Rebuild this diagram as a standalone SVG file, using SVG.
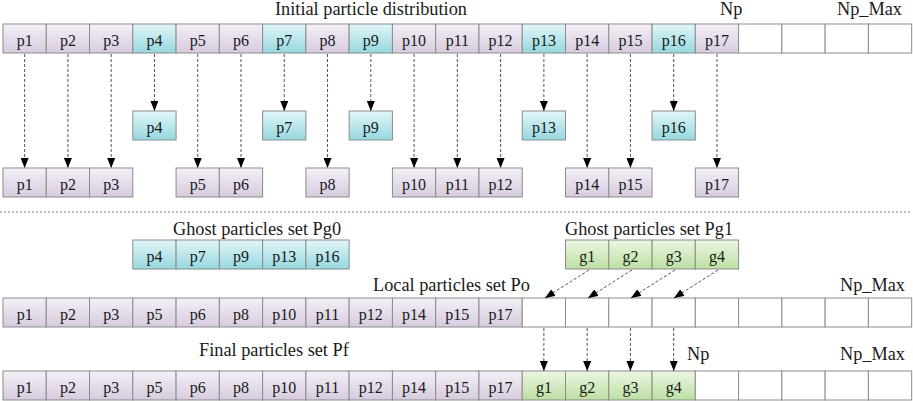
<svg xmlns="http://www.w3.org/2000/svg" width="913" height="401" viewBox="0 0 913 401">
<style>
text{font-family:"Liberation Serif","Times New Roman",serif;font-size:16px;fill:#1a1a1a}
.t{font-size:18.3px}
.c{text-anchor:middle}
rect{stroke:#8c8c8c;stroke-width:1}
.pu{fill:url(#gP)}
.cy{fill:url(#gC)}
.gr{fill:url(#gG)}
.wh{fill:#fff}
.ar{stroke:#555;stroke-width:1;stroke-dasharray:3 2;fill:none;marker-end:url(#ah)}
.sep{stroke:#888;stroke-width:1;stroke-dasharray:2 2}
</style>
<defs>
<linearGradient id="gP" x1="0" y1="0" x2="0" y2="1"><stop offset="0" stop-color="#f4f0f7"/><stop offset="1" stop-color="#d6cbdd"/></linearGradient>
<linearGradient id="gC" x1="0" y1="0" x2="0" y2="1"><stop offset="0" stop-color="#e2f6f8"/><stop offset="1" stop-color="#95d8df"/></linearGradient>
<linearGradient id="gG" x1="0" y1="0" x2="0" y2="1"><stop offset="0" stop-color="#edf6e3"/><stop offset="1" stop-color="#bcdfa2"/></linearGradient>
<marker id="ah" markerUnits="userSpaceOnUse" markerWidth="10" markerHeight="8" refX="10" refY="4" orient="auto"><path d="M0,0 L10,4 L0,8 z" fill="#000"/></marker>
</defs>

<g id="labels">
<text class="t c" x="371" y="15.3">Initial particle distribution</text>
<text class="t" x="720" y="15">Np</text>
<text class="t" x="837" y="15">Np_Max</text>
<text class="t c" x="257" y="234.7">Ghost particles set Pg0</text>
<text class="t c" x="649" y="234.7">Ghost particles set Pg1</text>
<text class="t" x="373" y="291.3">Local particles set Po</text>
<text class="t" x="840" y="291.3">Np_Max</text>
<text class="t" x="199" y="356">Final particles set Pf</text>
<text class="t" x="687" y="360">Np</text>
<text class="t" x="840" y="360">Np_Max</text>
</g>

<g id="initial-row">
<rect class="pu" x="3" y="24" width="43.27" height="29"/><text class="c" x="24.64" y="45.5">p1</text>
<rect class="pu" x="46.27" y="24" width="43.27" height="29"/><text class="c" x="67.91" y="45.5">p2</text>
<rect class="pu" x="89.54" y="24" width="43.27" height="29"/><text class="c" x="111.18" y="45.5">p3</text>
<rect class="cy" x="132.81" y="24" width="43.27" height="29"/><text class="c" x="154.45" y="45.5">p4</text>
<rect class="pu" x="176.08" y="24" width="43.27" height="29"/><text class="c" x="197.72" y="45.5">p5</text>
<rect class="pu" x="219.35" y="24" width="43.27" height="29"/><text class="c" x="240.99" y="45.5">p6</text>
<rect class="cy" x="262.62" y="24" width="43.27" height="29"/><text class="c" x="284.26" y="45.5">p7</text>
<rect class="pu" x="305.89" y="24" width="43.27" height="29"/><text class="c" x="327.53" y="45.5">p8</text>
<rect class="cy" x="349.16" y="24" width="43.27" height="29"/><text class="c" x="370.8" y="45.5">p9</text>
<rect class="pu" x="392.43" y="24" width="43.27" height="29"/><text class="c" x="414.07" y="45.5">p10</text>
<rect class="pu" x="435.7" y="24" width="43.27" height="29"/><text class="c" x="457.34" y="45.5">p11</text>
<rect class="pu" x="478.97" y="24" width="43.27" height="29"/><text class="c" x="500.61" y="45.5">p12</text>
<rect class="cy" x="522.24" y="24" width="43.27" height="29"/><text class="c" x="543.88" y="45.5">p13</text>
<rect class="pu" x="565.51" y="24" width="43.27" height="29"/><text class="c" x="587.15" y="45.5">p14</text>
<rect class="pu" x="608.78" y="24" width="43.27" height="29"/><text class="c" x="630.42" y="45.5">p15</text>
<rect class="cy" x="652.05" y="24" width="43.27" height="29"/><text class="c" x="673.69" y="45.5">p16</text>
<rect class="pu" x="695.32" y="24" width="43.27" height="29"/><text class="c" x="716.96" y="45.5">p17</text>
<rect class="wh" x="738.59" y="24" width="43.27" height="29"/>
<rect class="wh" x="781.86" y="24" width="43.27" height="29"/>
<rect class="wh" x="825.13" y="24" width="43.27" height="29"/>
<rect class="wh" x="868.4" y="24" width="43.27" height="29"/>
</g>

<g id="ghost-split">
<rect class="cy" x="132.81" y="111" width="43.27" height="29"/><text class="c" x="154.45" y="132.5">p4</text>
<rect class="cy" x="262.62" y="111" width="43.27" height="29"/><text class="c" x="284.26" y="132.5">p7</text>
<rect class="cy" x="349.16" y="111" width="43.27" height="29"/><text class="c" x="370.8" y="132.5">p9</text>
<rect class="cy" x="522.24" y="111" width="43.27" height="29"/><text class="c" x="543.88" y="132.5">p13</text>
<rect class="cy" x="652.05" y="111" width="43.27" height="29"/><text class="c" x="673.69" y="132.5">p16</text>
</g>

<g id="local-split">
<rect class="pu" x="3" y="168" width="43.27" height="29"/><text class="c" x="24.64" y="189.5">p1</text>
<rect class="pu" x="46.27" y="168" width="43.27" height="29"/><text class="c" x="67.91" y="189.5">p2</text>
<rect class="pu" x="89.54" y="168" width="43.27" height="29"/><text class="c" x="111.18" y="189.5">p3</text>
<rect class="pu" x="176.08" y="168" width="43.27" height="29"/><text class="c" x="197.72" y="189.5">p5</text>
<rect class="pu" x="219.35" y="168" width="43.27" height="29"/><text class="c" x="240.99" y="189.5">p6</text>
<rect class="pu" x="305.89" y="168" width="43.27" height="29"/><text class="c" x="327.53" y="189.5">p8</text>
<rect class="pu" x="392.43" y="168" width="43.27" height="29"/><text class="c" x="414.07" y="189.5">p10</text>
<rect class="pu" x="435.7" y="168" width="43.27" height="29"/><text class="c" x="457.34" y="189.5">p11</text>
<rect class="pu" x="478.97" y="168" width="43.27" height="29"/><text class="c" x="500.61" y="189.5">p12</text>
<rect class="pu" x="565.51" y="168" width="43.27" height="29"/><text class="c" x="587.15" y="189.5">p14</text>
<rect class="pu" x="608.78" y="168" width="43.27" height="29"/><text class="c" x="630.42" y="189.5">p15</text>
<rect class="pu" x="695.32" y="168" width="43.27" height="29"/><text class="c" x="716.96" y="189.5">p17</text>
</g>

<g id="set-pg0">
<rect class="cy" x="132.81" y="240" width="43.27" height="29"/><text class="c" x="154.45" y="261.5">p4</text>
<rect class="cy" x="176.08" y="240" width="43.27" height="29"/><text class="c" x="197.72" y="261.5">p7</text>
<rect class="cy" x="219.35" y="240" width="43.27" height="29"/><text class="c" x="240.99" y="261.5">p9</text>
<rect class="cy" x="262.62" y="240" width="43.27" height="29"/><text class="c" x="284.26" y="261.5">p13</text>
<rect class="cy" x="305.89" y="240" width="43.27" height="29"/><text class="c" x="327.53" y="261.5">p16</text>
</g>

<g id="set-pg1">
<rect class="gr" x="565.51" y="240" width="43.27" height="29"/><text class="c" x="587.15" y="261.5">g1</text>
<rect class="gr" x="608.78" y="240" width="43.27" height="29"/><text class="c" x="630.42" y="261.5">g2</text>
<rect class="gr" x="652.05" y="240" width="43.27" height="29"/><text class="c" x="673.69" y="261.5">g3</text>
<rect class="gr" x="695.32" y="240" width="43.27" height="29"/><text class="c" x="716.96" y="261.5">g4</text>
</g>

<g id="set-po">
<rect class="pu" x="3" y="298" width="43.27" height="29"/><text class="c" x="24.64" y="319.5">p1</text>
<rect class="pu" x="46.27" y="298" width="43.27" height="29"/><text class="c" x="67.91" y="319.5">p2</text>
<rect class="pu" x="89.54" y="298" width="43.27" height="29"/><text class="c" x="111.18" y="319.5">p3</text>
<rect class="pu" x="132.81" y="298" width="43.27" height="29"/><text class="c" x="154.45" y="319.5">p5</text>
<rect class="pu" x="176.08" y="298" width="43.27" height="29"/><text class="c" x="197.72" y="319.5">p6</text>
<rect class="pu" x="219.35" y="298" width="43.27" height="29"/><text class="c" x="240.99" y="319.5">p8</text>
<rect class="pu" x="262.62" y="298" width="43.27" height="29"/><text class="c" x="284.26" y="319.5">p10</text>
<rect class="pu" x="305.89" y="298" width="43.27" height="29"/><text class="c" x="327.53" y="319.5">p11</text>
<rect class="pu" x="349.16" y="298" width="43.27" height="29"/><text class="c" x="370.8" y="319.5">p12</text>
<rect class="pu" x="392.43" y="298" width="43.27" height="29"/><text class="c" x="414.07" y="319.5">p14</text>
<rect class="pu" x="435.7" y="298" width="43.27" height="29"/><text class="c" x="457.34" y="319.5">p15</text>
<rect class="pu" x="478.97" y="298" width="43.27" height="29"/><text class="c" x="500.61" y="319.5">p17</text>
<rect class="wh" x="522.24" y="298" width="43.27" height="29"/>
<rect class="wh" x="565.51" y="298" width="43.27" height="29"/>
<rect class="wh" x="608.78" y="298" width="43.27" height="29"/>
<rect class="wh" x="652.05" y="298" width="43.27" height="29"/>
<rect class="wh" x="695.32" y="298" width="43.27" height="29"/>
<rect class="wh" x="738.59" y="298" width="43.27" height="29"/>
<rect class="wh" x="781.86" y="298" width="43.27" height="29"/>
<rect class="wh" x="825.13" y="298" width="43.27" height="29"/>
<rect class="wh" x="868.4" y="298" width="43.27" height="29"/>
</g>

<g id="set-pf">
<rect class="pu" x="3" y="371" width="43.27" height="29"/><text class="c" x="24.64" y="392.5">p1</text>
<rect class="pu" x="46.27" y="371" width="43.27" height="29"/><text class="c" x="67.91" y="392.5">p2</text>
<rect class="pu" x="89.54" y="371" width="43.27" height="29"/><text class="c" x="111.18" y="392.5">p3</text>
<rect class="pu" x="132.81" y="371" width="43.27" height="29"/><text class="c" x="154.45" y="392.5">p5</text>
<rect class="pu" x="176.08" y="371" width="43.27" height="29"/><text class="c" x="197.72" y="392.5">p6</text>
<rect class="pu" x="219.35" y="371" width="43.27" height="29"/><text class="c" x="240.99" y="392.5">p8</text>
<rect class="pu" x="262.62" y="371" width="43.27" height="29"/><text class="c" x="284.26" y="392.5">p10</text>
<rect class="pu" x="305.89" y="371" width="43.27" height="29"/><text class="c" x="327.53" y="392.5">p11</text>
<rect class="pu" x="349.16" y="371" width="43.27" height="29"/><text class="c" x="370.8" y="392.5">p12</text>
<rect class="pu" x="392.43" y="371" width="43.27" height="29"/><text class="c" x="414.07" y="392.5">p14</text>
<rect class="pu" x="435.7" y="371" width="43.27" height="29"/><text class="c" x="457.34" y="392.5">p15</text>
<rect class="pu" x="478.97" y="371" width="43.27" height="29"/><text class="c" x="500.61" y="392.5">p17</text>
<rect class="gr" x="522.24" y="371" width="43.27" height="29"/><text class="c" x="543.88" y="392.5">g1</text>
<rect class="gr" x="565.51" y="371" width="43.27" height="29"/><text class="c" x="587.15" y="392.5">g2</text>
<rect class="gr" x="608.78" y="371" width="43.27" height="29"/><text class="c" x="630.42" y="392.5">g3</text>
<rect class="gr" x="652.05" y="371" width="43.27" height="29"/><text class="c" x="673.69" y="392.5">g4</text>
<rect class="wh" x="695.32" y="371" width="43.27" height="29"/>
<rect class="wh" x="738.59" y="371" width="43.27" height="29"/>
<rect class="wh" x="781.86" y="371" width="43.27" height="29"/>
<rect class="wh" x="825.13" y="371" width="43.27" height="29"/>
<rect class="wh" x="868.4" y="371" width="43.27" height="29"/>
</g>

<g id="connectors">
<line class="sep" x1="0" y1="212" x2="911" y2="212"/>
<line class="ar" x1="24.64" y1="54" x2="24.64" y2="168"/>
<line class="ar" x1="67.91" y1="54" x2="67.91" y2="168"/>
<line class="ar" x1="111.18" y1="54" x2="111.18" y2="168"/>
<line class="ar" x1="154.45" y1="54" x2="154.45" y2="111"/>
<line class="ar" x1="197.72" y1="54" x2="197.72" y2="168"/>
<line class="ar" x1="240.99" y1="54" x2="240.99" y2="168"/>
<line class="ar" x1="284.26" y1="54" x2="284.26" y2="111"/>
<line class="ar" x1="327.53" y1="54" x2="327.53" y2="168"/>
<line class="ar" x1="370.8" y1="54" x2="370.8" y2="111"/>
<line class="ar" x1="414.07" y1="54" x2="414.07" y2="168"/>
<line class="ar" x1="457.34" y1="54" x2="457.34" y2="168"/>
<line class="ar" x1="500.61" y1="54" x2="500.61" y2="168"/>
<line class="ar" x1="543.88" y1="54" x2="543.88" y2="111"/>
<line class="ar" x1="587.15" y1="54" x2="587.15" y2="168"/>
<line class="ar" x1="630.42" y1="54" x2="630.42" y2="168"/>
<line class="ar" x1="673.69" y1="54" x2="673.69" y2="111"/>
<line class="ar" x1="716.96" y1="54" x2="716.96" y2="168"/>
<line class="ar" x1="589" y1="270" x2="545" y2="298"/>
<line class="ar" x1="632" y1="270" x2="588" y2="298"/>
<line class="ar" x1="675" y1="270" x2="631" y2="298"/>
<line class="ar" x1="718" y1="270" x2="674" y2="298"/>
<line class="ar" x1="543.88" y1="328" x2="543.88" y2="371"/>
<line class="ar" x1="587.15" y1="328" x2="587.15" y2="371"/>
<line class="ar" x1="630.42" y1="328" x2="630.42" y2="371"/>
<line class="ar" x1="673.69" y1="328" x2="673.69" y2="371"/>
</g>
</svg>
